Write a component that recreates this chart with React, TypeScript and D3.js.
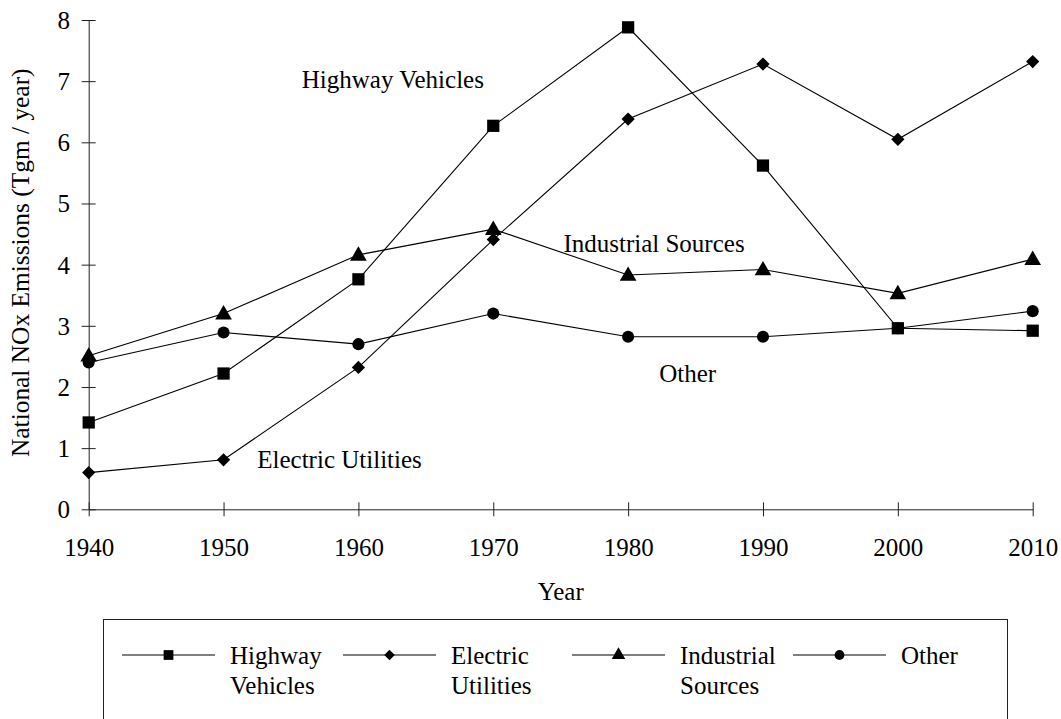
import { useEffect, useRef } from 'react';
import * as d3 from 'd3';

const years = [1940, 1950, 1960, 1970, 1980, 1990, 2000, 2010];
const highway = [1.42, 2.22, 3.76, 6.27, 7.88, 5.62, 2.96, 2.92];
const electric = [0.6, 0.81, 2.32, 4.41, 6.38, 7.28, 6.05, 7.32];
const industrial = [2.51, 3.2, 4.16, 4.58, 3.83, 3.92, 3.53, 4.09];
const other = [2.4, 2.89, 2.7, 3.2, 2.82, 2.82, 2.96, 3.24];
const yTicks = [0, 1, 2, 3, 4, 5, 6, 7, 8];

const seriesNames = ['Highway Vehicles', 'Electric Utilities', 'Industrial Sources', 'Other'];
const legendLines = [['Highway', 'Vehicles'], ['Electric', 'Utilities'], ['Industrial', 'Sources'], ['Other']];
// diamond = square turned 45deg, like the Excel marker
const symbols = [d3.symbolSquare, d3.symbolSquare, d3.symbolTriangle, d3.symbolCircle];
const rotations = [0, 45, 0, 0];

// in-plot labels, placed in data units (year, value at baseline)
const labelYears = [1955.8, 1952.5, 1975.2, 1982.3];
const labelValues = [6.89, 0.68, 4.21, 2.08];

const FONT = '"Liberation Serif", "Times New Roman", serif';

export default function App() {
  const svgRef = useRef<SVGSVGElement>(null);

  useEffect(() => {
    if (!svgRef.current) return;
    const svg = d3.select(svgRef.current);
    svg.selectAll('*').remove();

    const x = d3.scaleLinear().domain([1940, 2010]).range([88.7, 1032.7]);
    const y = d3.scaleLinear().domain([0, 8]).range([509.3, 20]);
    const values = [highway, electric, industrial, other];
    const symSizes = [150, 88, 120, 115];
    const legSizes = [95, 55, 80, 75];

    // clip for the y title (its closing paren is cut off in the original)
    svg.append('defs').append('clipPath').attr('id', 'ttl')
      .append('rect').attr('x', 0).attr('y', 69).attr('width', 60).attr('height', 500);

    // X axis
    const gx = svg.append('g').attr('transform', `translate(0, ${y(0)})`)
      .call(d3.axisBottom(x).tickValues(years).tickFormat(d3.format('d')).tickSize(7).tickSizeOuter(0));
    gx.select('.domain').attr('stroke', '#222');
    gx.selectAll('.tick line').attr('y1', -7).attr('y2', 7).attr('stroke', '#222');
    gx.selectAll('.tick text').attr('y', 47).attr('dy', 0)
      .attr('font-family', FONT).attr('font-size', 25).attr('fill', '#000');

    // Y axis
    const gy = svg.append('g').attr('transform', `translate(${x(1940)}, 0)`)
      .call(d3.axisLeft(y).tickValues(yTicks).tickSize(7).tickSizeOuter(0));
    gy.select('.domain').attr('stroke', '#222');
    gy.selectAll('.tick line').attr('x1', -7).attr('x2', 7).attr('stroke', '#222');
    gy.selectAll('.tick text').attr('x', -18.7).attr('dy', '0.34em')
      .attr('font-family', FONT).attr('font-size', 25).attr('fill', '#000');

    // titles
    svg.append('text')
      .attr('x', (x(1940) + x(2010)) / 2)
      .attr('y', 600)
      .attr('text-anchor', 'middle')
      .attr('font-family', FONT).attr('font-size', 25)
      .text('Year');

    svg.append('g').attr('clip-path', 'url(#ttl)')
      .append('text')
      .attr('transform', 'translate(29, 457) rotate(-90)')
      .attr('font-family', FONT).attr('font-size', 25.4)
      .text('National NOx Emissions (Tgm / year)');

    // Series
    const line = d3.line<number>().x((_, i) => x(years[i])).y(d => y(d));
    values.forEach((vals) => {
      svg.append('path').datum(vals)
        .attr('fill', 'none').attr('stroke', '#000').attr('stroke-width', 1.1)
        .attr('d', line);
    });
    values.forEach((vals, si) => {
      const sym = d3.symbol().type(symbols[si]).size(symSizes[si]);
      svg.append('g').selectAll('path').data(vals).join('path')
        .attr('transform', (d, i) =>
          `translate(${x(years[i])}, ${y(d) + (si === 2 ? 1 : 0)}) rotate(${rotations[si]})`)
        .attr('d', sym as any)
        .attr('fill', '#000');
    });

    // in-plot labels
    seriesNames.forEach((name, i) => {
      svg.append('text')
        .attr('x', x(labelYears[i])).attr('y', y(labelValues[i]))
        .attr('font-family', FONT).attr('font-size', 25)
        .text(name);
    });

    // Legend
    const leg = svg.append('g');
    leg.append('rect')
      .attr('x', 103.5).attr('y', 619.5).attr('width', 904).attr('height', 130)
      .attr('fill', 'none').attr('stroke', '#222');
    const legX = [122, 343, 572, 793];
    const lineLen = 93;
    const ly = 655;
    legX.forEach((lx, i) => {
      const g = leg.append('g');
      g.append('line').attr('x1', lx).attr('x2', lx + lineLen).attr('y1', ly).attr('y2', ly)
        .attr('stroke', '#000').attr('stroke-width', 1.1);
      g.append('path')
        .attr('transform', `translate(${lx + lineLen / 2}, ${ly}) rotate(${rotations[i]})`)
        .attr('d', d3.symbol().type(symbols[i]).size(legSizes[i]) as any)
        .attr('fill', '#000');
      legendLines[i].forEach((t, j) => {
        g.append('text')
          .attr('x', lx + lineLen + 15).attr('y', ly + 9 + j * 30)
          .attr('font-family', FONT).attr('font-size', 25)
          .text(t);
      });
    });
  }, []);

  return (
    <svg
      ref={svgRef}
      width={1061}
      height={719}
      style={{ position: 'absolute', left: 0, top: 0, background: '#fff' }}
    />
  );
}
